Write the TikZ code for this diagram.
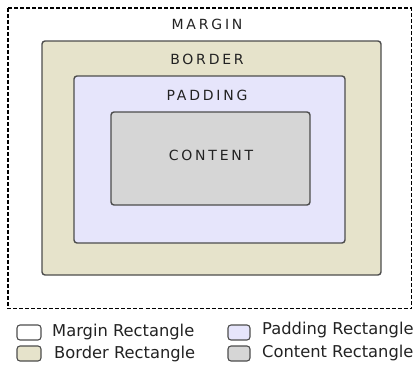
\documentclass[tikz,border=0pt]{standalone}
\usepackage{fontspec}
\setmainfont{DejaVu Sans}
\definecolor{borderfill}{HTML}{E6E3CB}
\definecolor{padfill}{HTML}{E6E5FB}
\definecolor{contfill}{HTML}{D6D6D6}
\definecolor{stroke}{HTML}{4D4D4D}
\definecolor{txt}{HTML}{222222}
\begin{document}
\begin{tikzpicture}[x=1pt,y=-1pt,
  box/.style={draw=stroke,line width=1.4pt,rounded corners=3pt},
  lbl/.style={text=txt,font=\fontsize{14}{16}\selectfont\addfontfeature{LetterSpace=20},inner sep=0pt},
  leg/.style={text=txt,font=\fontsize{16.3}{19}\selectfont,anchor=west,inner sep=0pt},
  legbox/.style={draw=stroke,line width=1.1pt,rounded corners=3pt}]
\useasboundingbox (0,0) rectangle (413,367);
\draw[line width=1.5pt,dash pattern=on 4pt off 2pt,draw=black] (8,8) rectangle (411.5,308.5);
\node[box,fill=borderfill,minimum width=339pt,minimum height=234pt,inner sep=0pt] (border) at (211.5,158) {};
\node[box,fill=padfill,minimum width=271pt,minimum height=167pt,inner sep=0pt] (padding) at (209.5,159.5) {};
\node[box,fill=contfill,minimum width=199pt,minimum height=93pt,inner sep=0pt] (content) at (210.5,158.5) {};
\node[lbl] (tm) at (207,24) {MARGIN};
\node[lbl] (tb) at (207,59) {BORDER};
\node[lbl] (tp) at (207,95) {PADDING};
\node[lbl] (tc) at (211,155) {CONTENT};
\node[legbox,fill=white,minimum width=24pt,minimum height=15pt,inner sep=0pt] (l1) at (29,332.5) {};
\node[legbox,fill=borderfill,minimum width=24pt,minimum height=15pt,inner sep=0pt] (l2) at (29,353.5) {};
\node[legbox,fill=padfill,minimum width=22pt,minimum height=15pt,inner sep=0pt] (l3) at (239,332.5) {};
\node[legbox,fill=contfill,minimum width=22pt,minimum height=15pt,inner sep=0pt] (l4) at (239,353.5) {};
\node[leg] (t1) at (52,332) {Margin Rectangle};
\node[leg] (t2) at (54,354) {Border Rectangle};
\node[leg] (t3) at (262,330) {Padding Rectangle};
\node[leg] (t4) at (262,353) {Content Rectangle};
\end{tikzpicture}
\end{document}
